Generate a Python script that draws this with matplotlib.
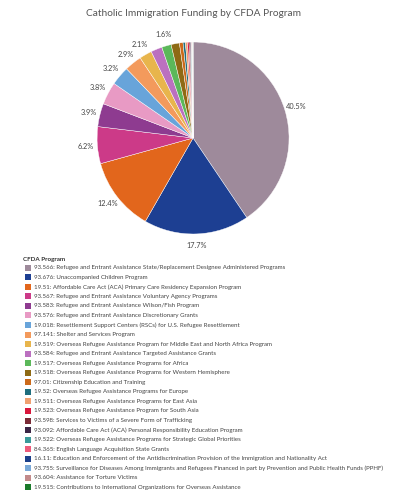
import matplotlib.pyplot as plt
from matplotlib.patches import Rectangle

codes = ["93.566", "93.676", "19.51", "93.567", "93.583", "93.576", "19.018", "97.141",
         "19.519", "93.584", "19.517", "19.518", "97.01", "19.52", "19.511", "19.523",
         "93.598", "93.092", "19.522", "84.365", "16.11", "93.755", "93.604", "19.515"]
names = [
    "Refugee and Entrant Assistance State/Replacement Designee Administered Programs",
    "Unaccompanied Children Program",
    "Affordable Care Act (ACA) Primary Care Residency Expansion Program",
    "Refugee and Entrant Assistance Voluntary Agency Programs",
    "Refugee and Entrant Assistance Wilson/Fish Program",
    "Refugee and Entrant Assistance Discretionary Grants",
    "Resettlement Support Centers (RSCs) for U.S. Refugee Resettlement",
    "Shelter and Services Program",
    "Overseas Refugee Assistance Program for Middle East and North Africa Program",
    "Refugee and Entrant Assistance Targeted Assistance Grants",
    "Overseas Refugee Assistance Programs for Africa",
    "Overseas Refugee Assistance Programs for Western Hemisphere",
    "Citizenship Education and Training",
    "Overseas Refugee Assistance Programs for Europe",
    "Overseas Refugee Assistance Programs for East Asia",
    "Overseas Refugee Assistance Program for South Asia",
    "Services to Victims of a Severe Form of Trafficking",
    "Affordable Care Act (ACA) Personal Responsibility Education Program",
    "Overseas Refugee Assistance Programs for Strategic Global Priorities",
    "English Language Acquisition State Grants",
    "Education and Enforcement of the Antidiscrimination Provision of the Immigration and Nationality Act",
    "Surveillance for Diseases Among Immigrants and Refugees Financed in part by Prevention and Public Health Funds (PPHF)",
    "Assistance for Torture Victims",
    "Contributions to International Organizations for Overseas Assistance",
]
shares = [40.5, 17.7, 12.4, 6.2, 3.9, 3.8, 3.2, 2.9, 2.1, 1.9, 1.6, 1.4,
          0.6, 0.4, 0.35, 0.25, 0.2, 0.15, 0.1, 0.08, 0.05, 0.04, 0.03, 0.02]
# labels that show on the chart (smaller ones are hidden)
labeled = ["93.566", "93.676", "19.51", "93.567", "93.583", "93.576", "19.018",
           "97.141", "19.519", "19.517"]

colors = ["#9e8a9b", "#1d3f92", "#e2661c", "#cc3a88", "#8e3b90", "#e89ac4", "#68a4da",
          "#f39a5c", "#e8b54c", "#bb70c0", "#5bb85a", "#8e6a14", "#cc6a1a", "#1e6e7e",
          "#f0a070", "#d9163c", "#7a2a36", "#3b2545", "#3a9a9a", "#ee5a7a", "#1b3f8a",
          "#7aa9d8", "#c28a8a", "#1a7a2a"]

plt.rcParams['font.family'] = ['Lato', 'DejaVu Sans']

fig = plt.figure(figsize=(3.93, 5.0), dpi=100)
fig.text(0.492, 0.972, "Catholic Immigration Funding by CFDA Program", ha="center", va="center",
         fontsize=7.3, color="#555555")

ax = fig.add_axes([0.247, 0.532, 0.4885, 0.384])
pie_labels = [f"{s:.1f}%" if c in labeled else "" for c, s in zip(codes, shares)]
wedges, texts = ax.pie(shares, colors=colors, startangle=90, counterclock=False,
                       labels=pie_labels, labeldistance=1.12,
                       wedgeprops=dict(linewidth=0.3, edgecolor="white"),
                       textprops=dict(fontsize=5.3, color="#444444"))
for t in texts:
    t.set_ha("center")
ax.set_xlim(-1, 1)
ax.set_ylim(-1, 1)
ax.set_aspect("equal")

# legend drawn by hand
fig.text(23 / 393, 1 - 259.5 / 500, "CFDA Program", fontsize=4.5, fontweight="bold",
         va="center", ha="left", color="#333333")
y0 = 267.7
step = 9.55
for i, (c, n) in enumerate(zip(codes, names)):
    y = y0 + i * step
    fig.add_artist(Rectangle((25 / 393, 1 - (y + 3) / 500), 6 / 393, 6 / 500,
                             transform=fig.transFigure, facecolor=colors[i], edgecolor="none"))
    fig.text(34 / 393, 1 - y / 500, f"{c}: {n}", fontsize=4.45, va="center", ha="left",
             color="#444444")

fig.savefig("out.png", dpi=100, facecolor="white")
